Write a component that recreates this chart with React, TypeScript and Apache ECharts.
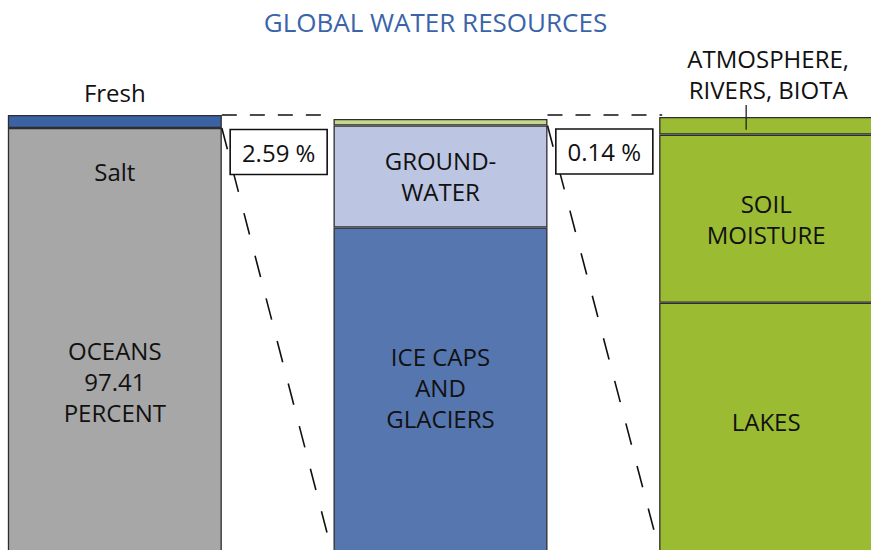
import { useEffect, useRef } from "react";
import * as echarts from "echarts";

// Three columns: all water, fresh water, surface fresh water
const categories = ["All water", "Fresh water", "Surface water"];

// Stack layers, bottom to top (percent of each column)
const baseValues = [97.41, 77.6, 62.6]; // oceans, ice caps & glaciers, lakes
const middleValues = [2.59, 20.3, 33.5]; // fresh, groundwater, soil moisture
const topValues: (number | null)[] = [null, 1.3, 3.5]; // surface water, atmosphere/rivers/biota

const baseColors = ["#a7a7a7", "#5676b0", "#9bbb33"];
const middleColors = ["#3b62a3", "#bcc5e1", "#9bbb33"];
const topColors = ["#9bbb33", "#c4d78e", "#9bbb33"];

const shareLabels = ["2.59 %", "0.14 %"];

const FONT = "'Open Sans', 'Noto Sans', sans-serif";
const TEXT = "#111";
const BORDER = "#2e2e2e";
const BAR_W = 214;

export default function App() {
  const ref = useRef<HTMLDivElement>(null);

  useEffect(() => {
    if (!ref.current) return;
    const chart = echarts.init(ref.current, null, { renderer: "svg" });

    const baseText = { fontFamily: FONT, fontSize: 24, color: TEXT, lineHeight: 31 };
    const item = (v: number | null, color: string, label?: any) => ({
      value: v,
      itemStyle: { color },
      label: label ? { show: true, ...baseText, ...label } : { show: false },
    });

    const baseLabels = [
      {
        position: "insideTop",
        distance: 28,
        formatter: (p: any) =>
          `{a|Salt}\n{g| }\n{b|OCEANS}\n{b|${Number(p.value).toFixed(2)}}\n{b|PERCENT}`,
        rich: {
          a: { ...baseText },
          g: { ...baseText, lineHeight: 148 },
          b: { ...baseText },
        },
      },
      { position: "insideTop", distance: 114, formatter: "ICE CAPS\nAND\nGLACIERS" },
      { position: "insideTop", distance: 103, formatter: "LAKES" },
    ];
    const middleLabels = [
      { position: "top", distance: 7, formatter: "Fresh" },
      { position: "inside", formatter: "GROUND-\nWATER" },
      { position: "inside", formatter: "SOIL\nMOISTURE" },
    ];
    const topLabels = [
      undefined,
      undefined,
      { position: "top", distance: 12, offset: [2, 0], formatter: "ATMOSPHERE,\nRIVERS, BIOTA" },
    ];

    const common = {
      type: "bar" as const,
      stack: "water",
      barWidth: BAR_W,
      itemStyle: { borderColor: BORDER, borderWidth: 1.3 },
    };

    chart.setOption({
      animation: false,
      title: {
        text: "GLOBAL WATER RESOURCES",
        left: "center",
        top: 2,
        textStyle: {
          fontFamily: FONT,
          fontSize: 26,
          fontWeight: "normal",
          color: "#3a64aa",
          lineHeight: 30,
        },
      },
      grid: {
        left: -48,
        right: -58,
        top: 115,
        height: 502,
        outerBoundsMode: "none",
      },
      xAxis: { type: "category", data: categories, show: false },
      yAxis: { type: "value", min: 0, max: 100, show: false },
      series: [
        {
          ...common,
          name: "base",
          data: baseValues.map((v, i) => item(v, baseColors[i], baseLabels[i])),
        },
        {
          ...common,
          name: "middle",
          data: middleValues.map((v, i) => item(v, middleColors[i], middleLabels[i])),
        },
        {
          ...common,
          name: "top",
          data: topValues.map((v, i) => item(v, topColors[i], topLabels[i])),
        },
      ],
    });

    // Connectors and share boxes placed from the axis scales
    const px = (c: number, v: number) =>
      chart.convertToPixel({ xAxisIndex: 0, yAxisIndex: 0 }, [c, v]) as number[];
    const H = chart.getHeight();
    const half = BAR_W / 2;

    const total1 = baseValues[0] + middleValues[0];
    const yTop = px(0, total1)[1];
    const bar1Right = px(0, 0)[0] + half;
    const bar2Left = px(1, 0)[0] - half;
    const bar2Right = px(1, 0)[0] + half;
    const bar3Left = px(2, 0)[0] - half;
    const bar3Center = px(2, 0)[0];
    const ySalt = px(0, baseValues[0])[1];
    const yGround = px(1, baseValues[1] + middleValues[1])[1];
    const bar3Total = baseValues[2] + middleValues[2] + (topValues[2] ?? 0);
    const yAtmTop = px(2, bar3Total)[1];
    const yAtmBottom = px(2, baseValues[2] + middleValues[2])[1];

    const dashH = { stroke: "#111", lineWidth: 1.6, lineDash: [15, 13] };
    const dashS = { stroke: "#111", lineWidth: 1.6, lineDash: [22, 22] };
    const line = (x1: number, y1: number, x2: number, y2: number, style: any) => ({
      type: "line",
      z: 10,
      shape: { x1, y1, x2, y2 },
      style,
      silent: true,
    });
    const box = (cx: number, cy: number, text: string) => ({
      type: "group",
      z: 20,
      children: [
        {
          type: "rect",
          z: 20,
          shape: { x: cx - 48.5, y: cy - 22.5, width: 97, height: 45 },
          style: { fill: "#fff", stroke: "#111", lineWidth: 1.6 },
        },
        {
          type: "text",
          z: 21,
          x: cx,
          y: cy,
          style: {
            text,
            fontFamily: FONT,
            fontSize: 24,
            fill: TEXT,
            align: "center",
            verticalAlign: "middle",
          },
        },
      ],
    });

    chart.setOption({
      graphic: [
        line(bar1Right, yTop, bar2Left, yTop, dashH),
        line(bar2Right, yTop, bar3Left + 3, yTop, dashH),
        line(bar1Right, ySalt, bar2Left - 2, H, dashS),
        line(bar2Right, yGround, bar3Left, H, dashS),
        line(bar3Center - 20, yAtmTop - 12, bar3Center - 20, (yAtmTop + yAtmBottom) / 2 + 4, {
          stroke: "#222",
          lineWidth: 1.3,
        }),
        box((bar1Right + bar2Left) / 2 + 1, ySalt + 24, shareLabels[0]),
        box((bar2Right + bar3Left) / 2 + 1, yGround + 26, shareLabels[1]),
      ],
    });

    return () => chart.dispose();
  }, []);

  return (
    <div
      ref={ref}
      style={{ position: "absolute", left: 0, top: 0, width: 871, height: 550, background: "#fff" }}
    />
  );
}
